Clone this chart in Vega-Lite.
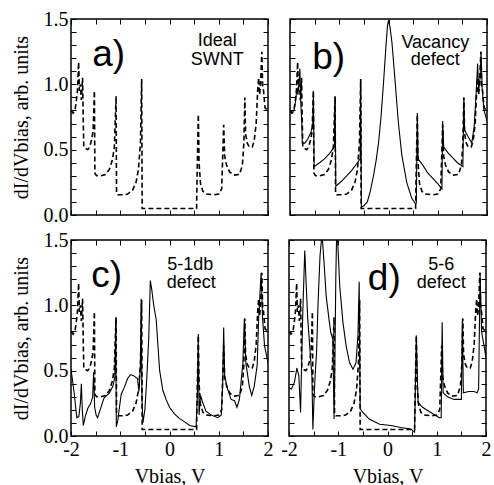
{
  "$schema": "https://vega.github.io/schema/vega-lite/v6.json",
  "padding": {"left": 10, "top": 8, "right": 5, "bottom": 0},
  "config": {
    "view": {"stroke": "black", "strokeWidth": 1.5},
    "axis": {"domain": false, "grid": false, "tickColor": "black", "tickSize": -5, "tickWidth": 1,
      "minExtent": 0,
      "labelFont": "Liberation Serif", "labelFontSize": 20, "labelColor": "black", "labelPadding": 8,
      "labelFlush": false, "labelOverlap": false,
      "titleFont": "Liberation Serif", "titleFontSize": 20, "titleColor": "black", "titleFontWeight": "normal"},
    "axisX": {"titlePadding": 7},
    "axisY": {"titlePadding": 12},
    "text": {"font": "Liberation Sans", "color": "black"}
  },
  "datasets": {
    "ideal": [
      {"V":-2.00,"g":0.80},{"V":-1.96,"g":0.78},{"V":-1.92,"g":0.80},{"V":-1.89,"g":0.88},{"V":-1.87,"g":0.95},
      {"V":-1.845,"g":1.17},{"V":-1.83,"g":0.95},{"V":-1.81,"g":1.00},{"V":-1.79,"g":0.88},{"V":-1.765,"g":1.05},
      {"V":-1.75,"g":0.70},{"V":-1.74,"g":0.52},{"V":-1.71,"g":0.51},{"V":-1.66,"g":0.50},{"V":-1.62,"g":0.52},
      {"V":-1.58,"g":0.58},{"V":-1.55,"g":0.65},{"V":-1.525,"g":0.95},{"V":-1.515,"g":0.32},{"V":-1.48,"g":0.30},
      {"V":-1.40,"g":0.30},{"V":-1.30,"g":0.31},{"V":-1.22,"g":0.35},{"V":-1.16,"g":0.42},{"V":-1.12,"g":0.52},
      {"V":-1.085,"g":0.91},{"V":-1.075,"g":0.17},{"V":-1.05,"g":0.155},{"V":-0.95,"g":0.155},{"V":-0.85,"g":0.16},
      {"V":-0.75,"g":0.19},{"V":-0.68,"g":0.25},{"V":-0.63,"g":0.35},{"V":-0.59,"g":0.55},{"V":-0.565,"g":1.04},
      {"V":-0.555,"g":0.05},{"V":0.0,"g":0.05},{"V":0.55,"g":0.05},{"V":0.56,"g":0.30},{"V":0.585,"g":0.77},
      {"V":0.60,"g":0.40},{"V":0.63,"g":0.24},{"V":0.68,"g":0.18},{"V":0.75,"g":0.16},{"V":0.90,"g":0.155},
      {"V":1.00,"g":0.16},{"V":1.06,"g":0.20},{"V":1.10,"g":0.69},{"V":1.12,"g":0.45},{"V":1.16,"g":0.38},
      {"V":1.22,"g":0.33},{"V":1.30,"g":0.305},{"V":1.42,"g":0.31},{"V":1.48,"g":0.38},{"V":1.51,"g":0.55},
      {"V":1.53,"g":0.90},{"V":1.545,"g":0.62},{"V":1.58,"g":0.55},{"V":1.62,"g":0.52},{"V":1.68,"g":0.52},
      {"V":1.72,"g":0.57},{"V":1.76,"g":0.70},{"V":1.79,"g":0.95},{"V":1.81,"g":1.05},{"V":1.83,"g":0.92},
      {"V":1.85,"g":1.00},{"V":1.875,"g":1.25},{"V":1.89,"g":1.00},{"V":1.91,"g":0.95},{"V":1.94,"g":0.82},
      {"V":2.00,"g":0.80}
    ],
    "vacancy": [
      {"V":-2.00,"g":0.80},{"V":-1.96,"g":0.78},{"V":-1.92,"g":0.80},{"V":-1.89,"g":0.86},{"V":-1.86,"g":0.97},
      {"V":-1.84,"g":0.92},{"V":-1.82,"g":1.00},{"V":-1.80,"g":1.12},{"V":-1.78,"g":0.85},{"V":-1.76,"g":0.70},
      {"V":-1.75,"g":0.55},{"V":-1.70,"g":0.55},{"V":-1.64,"g":0.58},{"V":-1.58,"g":0.63},{"V":-1.54,"g":0.68},
      {"V":-1.525,"g":0.95},{"V":-1.51,"g":0.37},{"V":-1.40,"g":0.40},{"V":-1.30,"g":0.43},{"V":-1.20,"g":0.47},
      {"V":-1.10,"g":0.52},{"V":-1.085,"g":0.90},{"V":-1.07,"g":0.22},{"V":-0.95,"g":0.26},{"V":-0.85,"g":0.30},
      {"V":-0.75,"g":0.34},{"V":-0.65,"g":0.39},{"V":-0.575,"g":0.43},{"V":-0.565,"g":1.04},{"V":-0.55,"g":0.06},
      {"V":-0.50,"g":0.07},{"V":-0.43,"g":0.10},{"V":-0.37,"g":0.18},{"V":-0.30,"g":0.31},{"V":-0.25,"g":0.42},
      {"V":-0.20,"g":0.56},{"V":-0.15,"g":0.76},{"V":-0.10,"g":1.02},{"V":-0.05,"g":1.30},{"V":-0.02,"g":1.45},
      {"V":0.00,"g":1.49},{"V":0.03,"g":1.44},{"V":0.07,"g":1.32},{"V":0.135,"g":1.02},{"V":0.20,"g":0.71},
      {"V":0.27,"g":0.46},{"V":0.37,"g":0.25},{"V":0.47,"g":0.13},{"V":0.54,"g":0.09},{"V":0.565,"g":0.09},
      {"V":0.585,"g":0.78},{"V":0.60,"g":0.43},{"V":0.70,"g":0.38},{"V":0.80,"g":0.32},{"V":0.90,"g":0.28},
      {"V":1.00,"g":0.24},{"V":1.085,"g":0.20},{"V":1.10,"g":0.72},{"V":1.12,"g":0.52},{"V":1.20,"g":0.48},
      {"V":1.30,"g":0.44},{"V":1.40,"g":0.40},{"V":1.51,"g":0.37},{"V":1.53,"g":0.90},{"V":1.545,"g":0.65},
      {"V":1.60,"g":0.61},{"V":1.69,"g":0.55},{"V":1.74,"g":0.68},{"V":1.78,"g":0.93},{"V":1.81,"g":1.16},
      {"V":1.83,"g":0.95},{"V":1.86,"g":1.05},{"V":1.88,"g":1.25},{"V":1.90,"g":0.98},{"V":1.94,"g":0.80},
      {"V":2.00,"g":0.72}
    ],
    "db51": [
      {"V":-2.00,"g":0.51},{"V":-1.96,"g":0.40},{"V":-1.93,"g":0.31},{"V":-1.90,"g":0.20},{"V":-1.88,"g":0.14},
      {"V":-1.84,"g":0.15},{"V":-1.81,"g":0.25},{"V":-1.79,"g":0.40},{"V":-1.77,"g":0.20},{"V":-1.75,"g":0.08},
      {"V":-1.71,"g":0.15},{"V":-1.66,"g":0.21},{"V":-1.60,"g":0.25},{"V":-1.56,"g":0.30},{"V":-1.54,"g":0.49},
      {"V":-1.52,"g":0.22},{"V":-1.49,"g":0.16},{"V":-1.46,"g":0.14},{"V":-1.40,"g":0.21},{"V":-1.33,"g":0.29},
      {"V":-1.22,"g":0.33},{"V":-1.15,"g":0.38},{"V":-1.11,"g":0.45},{"V":-1.09,"g":0.90},{"V":-1.08,"g":0.07},
      {"V":-1.05,"g":0.12},{"V":-1.02,"g":0.21},{"V":-0.98,"g":0.32},{"V":-0.92,"g":0.37},{"V":-0.85,"g":0.44},
      {"V":-0.79,"g":0.47},{"V":-0.72,"g":0.46},{"V":-0.65,"g":0.44},{"V":-0.62,"g":0.34},{"V":-0.59,"g":0.55},
      {"V":-0.575,"g":1.05},{"V":-0.56,"g":0.30},{"V":-0.54,"g":0.10},{"V":-0.50,"g":0.20},{"V":-0.47,"g":0.38},
      {"V":-0.42,"g":0.76},{"V":-0.39,"g":1.19},{"V":-0.36,"g":1.12},{"V":-0.32,"g":1.00},{"V":-0.27,"g":0.89},
      {"V":-0.20,"g":0.50},{"V":-0.135,"g":0.35},{"V":-0.07,"g":0.28},{"V":0.00,"g":0.22},{"V":0.10,"g":0.17},
      {"V":0.20,"g":0.135},{"V":0.30,"g":0.11},{"V":0.41,"g":0.08},{"V":0.54,"g":0.07},{"V":0.565,"g":0.30},
      {"V":0.585,"g":0.78},{"V":0.60,"g":0.16},{"V":0.63,"g":0.31},{"V":0.67,"g":0.26},{"V":0.74,"g":0.19},
      {"V":0.85,"g":0.16},{"V":0.98,"g":0.14},{"V":1.05,"g":0.16},{"V":1.08,"g":0.40},{"V":1.10,"g":0.83},
      {"V":1.12,"g":0.46},{"V":1.18,"g":0.36},{"V":1.25,"g":0.28},{"V":1.32,"g":0.27},{"V":1.37,"g":0.22},
      {"V":1.42,"g":0.28},{"V":1.49,"g":0.56},{"V":1.52,"g":0.90},{"V":1.55,"g":0.56},{"V":1.62,"g":0.38},
      {"V":1.67,"g":0.31},{"V":1.72,"g":0.38},{"V":1.78,"g":0.54},{"V":1.81,"g":0.90},{"V":1.86,"g":1.25},
      {"V":1.89,"g":0.90},{"V":1.93,"g":0.69},{"V":2.00,"g":0.56}
    ],
    "d56": [
      {"V":-2.00,"g":0.37},{"V":-1.95,"g":0.36},{"V":-1.89,"g":0.41},{"V":-1.84,"g":0.52},{"V":-1.80,"g":0.46},
      {"V":-1.765,"g":0.18},{"V":-1.75,"g":0.45},{"V":-1.72,"g":0.95},{"V":-1.68,"g":1.42},{"V":-1.65,"g":1.15},
      {"V":-1.62,"g":0.90},{"V":-1.58,"g":0.69},{"V":-1.535,"g":0.46},{"V":-1.515,"g":0.05},{"V":-1.49,"g":0.30},
      {"V":-1.47,"g":0.46},{"V":-1.44,"g":0.64},{"V":-1.41,"g":1.02},{"V":-1.37,"g":1.38},{"V":-1.33,"g":1.55},
      {"V":-1.28,"g":1.28},{"V":-1.245,"g":1.07},{"V":-1.18,"g":0.87},{"V":-1.15,"g":0.79},{"V":-1.11,"g":0.74},
      {"V":-1.085,"g":0.13},{"V":-1.07,"g":0.50},{"V":-1.05,"g":1.20},{"V":-1.03,"g":1.60},{"V":-1.00,"g":1.40},
      {"V":-0.97,"g":1.15},{"V":-0.905,"g":0.87},{"V":-0.84,"g":0.69},{"V":-0.77,"g":0.56},{"V":-0.70,"g":0.51},
      {"V":-0.64,"g":0.56},{"V":-0.60,"g":0.77},{"V":-0.575,"g":1.18},{"V":-0.555,"g":0.21},{"V":-0.50,"g":0.18},
      {"V":-0.37,"g":0.13},{"V":-0.16,"g":0.09},{"V":0.07,"g":0.08},{"V":0.27,"g":0.065},{"V":0.47,"g":0.054},
      {"V":0.55,"g":0.03},{"V":0.585,"g":0.77},{"V":0.62,"g":0.26},{"V":0.71,"g":0.22},{"V":0.88,"g":0.18},
      {"V":1.05,"g":0.14},{"V":1.09,"g":0.14},{"V":1.11,"g":0.87},{"V":1.13,"g":0.33},{"V":1.22,"g":0.30},
      {"V":1.35,"g":0.28},{"V":1.50,"g":0.28},{"V":1.52,"g":0.90},{"V":1.54,"g":0.33},{"V":1.65,"g":0.34},
      {"V":1.76,"g":0.34},{"V":1.82,"g":0.33},{"V":1.85,"g":0.36},{"V":1.88,"g":1.25},{"V":1.91,"g":0.80},
      {"V":2.00,"g":0.60}
    ]
  },
  "vconcat": [
    {"hconcat": [
      {"width": 197, "height": 196,
       "layer": [
        {"data": {"name": "ideal"}, "mark": {"type": "line", "color": "black", "strokeWidth": 1.6, "strokeDash": [5, 3], "clip": true},
         "encoding": {
          "x": {"field": "V", "type": "quantitative", "scale": {"domain": [-2, 2], "nice": false, "zero": false},
                "axis": {"orient": "bottom", "values": [-2,-1.5,-1,-0.5,0,0.5,1,1.5,2], "labels": false, "title": null}},
          "y": {"field": "g", "type": "quantitative", "scale": {"domain": [0, 1.5], "nice": false},
                "axis": {"orient": "left", "values": [0,0.1,0.2,0.3,0.4,0.5,0.6,0.7,0.8,0.9,1,1.1,1.2,1.3,1.4,1.5],
                         "labelExpr": "round(datum.value*10) % 5 == 0 ? format(datum.value, '.1f') : ''",
                         "title": "dI/dVbias, arb. units"}}}},
        {"data": {"values": [{"V": -1.57, "g": 1.14, "t": "a)"}]}, "mark": {"type": "text", "fontSize": 37, "align": "left", "baseline": "alphabetic"},
         "encoding": {
          "x": {"field": "V", "type": "quantitative", "axis": {"orient": "top", "values": [-2,-1.5,-1,-0.5,0,0.5,1,1.5,2], "labels": false, "title": null}},
          "y": {"field": "g", "type": "quantitative", "axis": {"orient": "right", "values": [0,0.1,0.2,0.3,0.4,0.5,0.6,0.7,0.8,0.9,1,1.1,1.2,1.3,1.4,1.5], "labels": false, "title": null}},
          "text": {"field": "t"}}},
        {"data": {"values": [{"V": 0.97, "g": 1.29, "t": "Ideal"}, {"V": 0.97, "g": 1.15, "t": "SWNT"}]}, "mark": {"type": "text", "fontSize": 18, "align": "center", "baseline": "alphabetic"},
         "encoding": {"x": {"field": "V", "type": "quantitative", "axis": null}, "y": {"field": "g", "type": "quantitative", "axis": null}, "text": {"field": "t"}}}
       ],
       "resolve": {"axis": {"x": "independent", "y": "independent"}}},
      {"width": 197, "height": 196,
       "layer": [
        {"data": {"name": "ideal"}, "mark": {"type": "line", "color": "black", "strokeWidth": 1.6, "strokeDash": [5, 3], "clip": true},
         "encoding": {
          "x": {"field": "V", "type": "quantitative", "scale": {"domain": [-2, 2], "nice": false, "zero": false},
                "axis": {"orient": "bottom", "values": [-2,-1.5,-1,-0.5,0,0.5,1,1.5,2], "labels": false, "title": null}},
          "y": {"field": "g", "type": "quantitative", "scale": {"domain": [0, 1.5], "nice": false},
                "axis": {"orient": "left", "values": [0,0.1,0.2,0.3,0.4,0.5,0.6,0.7,0.8,0.9,1,1.1,1.2,1.3,1.4,1.5], "labels": false, "title": null}}}},
        {"data": {"name": "vacancy"}, "mark": {"type": "line", "color": "black", "strokeWidth": 1.1, "clip": true},
         "encoding": {"x": {"field": "V", "type": "quantitative", "axis": null}, "y": {"field": "g", "type": "quantitative", "axis": null}}},
        {"data": {"values": [{"V": -1.55, "g": 1.12, "t": "b)"}]}, "mark": {"type": "text", "fontSize": 37, "align": "left", "baseline": "alphabetic"},
         "encoding": {
          "x": {"field": "V", "type": "quantitative", "axis": {"orient": "top", "values": [-2,-1.5,-1,-0.5,0,0.5,1,1.5,2], "labels": false, "title": null}},
          "y": {"field": "g", "type": "quantitative", "axis": {"orient": "right", "values": [0,0.1,0.2,0.3,0.4,0.5,0.6,0.7,0.8,0.9,1,1.1,1.2,1.3,1.4,1.5], "labels": false, "title": null}},
          "text": {"field": "t"}}},
        {"data": {"values": [{"V": 0.95, "g": 1.28, "t": "Vacancy"}, {"V": 0.95, "g": 1.145, "t": "defect"}]}, "mark": {"type": "text", "fontSize": 18, "align": "center", "baseline": "alphabetic"},
         "encoding": {"x": {"field": "V", "type": "quantitative", "axis": null}, "y": {"field": "g", "type": "quantitative", "axis": null}, "text": {"field": "t"}}}
       ],
       "resolve": {"axis": {"x": "independent", "y": "independent"}}}
    ], "spacing": 18},
    {"hconcat": [
      {"width": 197, "height": 196,
       "layer": [
        {"data": {"name": "ideal"}, "mark": {"type": "line", "color": "black", "strokeWidth": 1.6, "strokeDash": [5, 3], "clip": true},
         "encoding": {
          "x": {"field": "V", "type": "quantitative", "scale": {"domain": [-2, 2], "nice": false, "zero": false},
                "axis": {"orient": "bottom", "values": [-2,-1.5,-1,-0.5,0,0.5,1,1.5,2], "labelExpr": "datum.value % 1 == 0 ? '' + datum.value : ''", "title": "Vbias, V"}},
          "y": {"field": "g", "type": "quantitative", "scale": {"domain": [0, 1.5], "nice": false},
                "axis": {"orient": "left", "values": [0,0.1,0.2,0.3,0.4,0.5,0.6,0.7,0.8,0.9,1,1.1,1.2,1.3,1.4,1.5],
                         "labelExpr": "round(datum.value*10) % 5 == 0 ? format(datum.value, '.1f') : ''",
                         "title": "dI/dVbias, arb. units"}}}},
        {"data": {"name": "db51"}, "mark": {"type": "line", "color": "black", "strokeWidth": 1.1, "clip": true},
         "encoding": {"x": {"field": "V", "type": "quantitative", "axis": null}, "y": {"field": "g", "type": "quantitative", "axis": null}}},
        {"data": {"values": [{"V": -1.59, "g": 1.14, "t": "c)"}]}, "mark": {"type": "text", "fontSize": 37, "align": "left", "baseline": "alphabetic"},
         "encoding": {
          "x": {"field": "V", "type": "quantitative", "axis": {"orient": "top", "values": [-2,-1.5,-1,-0.5,0,0.5,1,1.5,2], "labels": false, "title": null}},
          "y": {"field": "g", "type": "quantitative", "axis": {"orient": "right", "values": [0,0.1,0.2,0.3,0.4,0.5,0.6,0.7,0.8,0.9,1,1.1,1.2,1.3,1.4,1.5], "labels": false, "title": null}},
          "text": {"field": "t"}}},
        {"data": {"values": [{"V": 0.42, "g": 1.27, "t": "5-1db"}, {"V": 0.44, "g": 1.13, "t": "defect"}]}, "mark": {"type": "text", "fontSize": 18, "align": "center", "baseline": "alphabetic"},
         "encoding": {"x": {"field": "V", "type": "quantitative", "axis": null}, "y": {"field": "g", "type": "quantitative", "axis": null}, "text": {"field": "t"}}}
       ],
       "resolve": {"axis": {"x": "independent", "y": "independent"}}},
      {"width": 197, "height": 196,
       "layer": [
        {"data": {"name": "ideal"}, "mark": {"type": "line", "color": "black", "strokeWidth": 1.6, "strokeDash": [5, 3], "clip": true},
         "encoding": {
          "x": {"field": "V", "type": "quantitative", "scale": {"domain": [-2, 2], "nice": false, "zero": false},
                "axis": {"orient": "bottom", "values": [-2,-1.5,-1,-0.5,0,0.5,1,1.5,2], "labelExpr": "datum.value % 1 == 0 ? '' + datum.value : ''", "title": "Vbias, V"}},
          "y": {"field": "g", "type": "quantitative", "scale": {"domain": [0, 1.5], "nice": false},
                "axis": {"orient": "left", "values": [0,0.1,0.2,0.3,0.4,0.5,0.6,0.7,0.8,0.9,1,1.1,1.2,1.3,1.4,1.5], "labels": false, "title": null}}}},
        {"data": {"name": "d56"}, "mark": {"type": "line", "color": "black", "strokeWidth": 1.1, "clip": true},
         "encoding": {"x": {"field": "V", "type": "quantitative", "axis": null}, "y": {"field": "g", "type": "quantitative", "axis": null}}},
        {"data": {"values": [{"V": -0.40, "g": 1.12, "t": "d)"}]}, "mark": {"type": "text", "fontSize": 37, "align": "left", "baseline": "alphabetic"},
         "encoding": {
          "x": {"field": "V", "type": "quantitative", "axis": {"orient": "top", "values": [-2,-1.5,-1,-0.5,0,0.5,1,1.5,2], "labels": false, "title": null}},
          "y": {"field": "g", "type": "quantitative", "axis": {"orient": "right", "values": [0,0.1,0.2,0.3,0.4,0.5,0.6,0.7,0.8,0.9,1,1.1,1.2,1.3,1.4,1.5], "labels": false, "title": null}},
          "text": {"field": "t"}}},
        {"data": {"values": [{"V": 1.09, "g": 1.27, "t": "5-6"}, {"V": 1.09, "g": 1.13, "t": "defect"}]}, "mark": {"type": "text", "fontSize": 18, "align": "center", "baseline": "alphabetic"},
         "encoding": {"x": {"field": "V", "type": "quantitative", "axis": null}, "y": {"field": "g", "type": "quantitative", "axis": null}, "text": {"field": "t"}}}
       ],
       "resolve": {"axis": {"x": "independent", "y": "independent"}}}
    ], "spacing": 5}
  ],
  "spacing": 3
}
